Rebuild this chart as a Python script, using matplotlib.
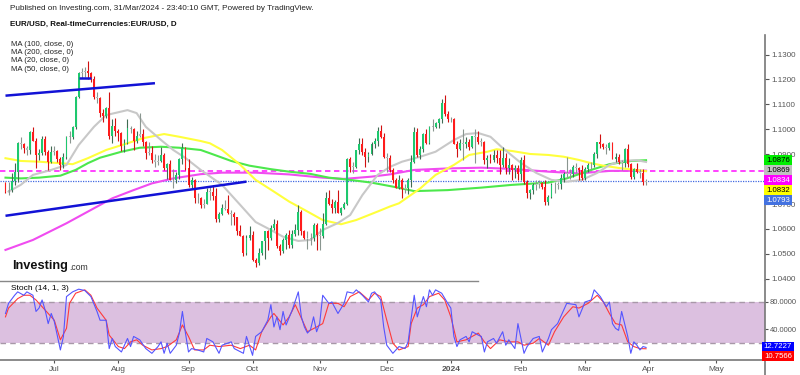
import matplotlib
matplotlib.use("Agg")
import matplotlib.pyplot as plt
import numpy as np
import pandas as pd
from matplotlib.lines import Line2D

plt.rcParams['font.family'] = ['Liberation Sans', 'DejaVu Sans']

# daily bars, 9 Jun 2023 .. 29 Mar 2024 (weekdays)
dates = pd.bdate_range('2023-06-09', '2024-03-29')

opens = [
    1.0785, 1.0750, 1.0755, 1.0793, 1.0830, 1.0945, 1.0940, 1.0923, 1.0916, 1.0990, 1.0955, 1.0895, 1.0905, 1.0960, 1.0910, 1.0868,
    1.0910, 1.0912, 1.0880, 1.0855, 1.0890, 1.0970, 1.0970, 1.1010, 1.1130, 1.1225, 1.1230, 1.1235, 1.1225, 1.1200, 1.1128, 1.1125, 1.1064, 1.1055, 1.1085, 1.0975, 1.1015,
    1.0995, 1.0985, 1.0935, 1.0945, 1.1005, 1.1000, 1.0955, 1.0975, 1.0980, 1.0950, 1.0905, 1.0905, 1.0875, 1.0870, 1.0872, 1.0895, 1.0845, 1.0860, 1.0795, 1.0795, 1.0815, 1.0880, 1.0925,
    1.0845, 1.0775, 1.0795, 1.0723, 1.0725, 1.0695, 1.0700, 1.0750, 1.0750, 1.0733, 1.0640, 1.0660, 1.0685, 1.0680, 1.0665, 1.0660, 1.0650, 1.0590, 1.0570, 1.0505, 1.0565,
    1.0575, 1.0475, 1.0465, 1.0505, 1.0550, 1.0590, 1.0565, 1.0605, 1.0620, 1.0530, 1.0510, 1.0555, 1.0575, 1.0535, 1.0580, 1.0595, 1.0670, 1.0590, 1.0565, 1.0560, 1.0565, 1.0615,
    1.0575, 1.0570, 1.0620, 1.0725, 1.0700, 1.0685, 1.0710, 1.0665, 1.0685, 1.0700, 1.0880, 1.0850, 1.0850, 1.0915, 1.0940, 1.0910, 1.0890, 1.0900, 1.0940, 1.0955, 1.0995, 1.0970,
    1.0890, 1.0885, 1.0835, 1.0795, 1.0765, 1.0795, 1.0760, 1.0765, 1.0795, 1.0870, 1.0990, 1.0895, 1.0920, 1.0980, 1.0945, 1.1010, 1.1010, 1.1025, 1.1040, 1.1105, 1.1060,
    1.1040, 1.1040, 1.0940, 1.0920, 1.0945, 1.0940, 1.0950, 1.0930, 1.0975, 1.0970, 1.0950, 1.0950, 1.0875, 1.0885, 1.0875, 1.0895, 1.0885, 1.0855, 1.0885, 1.0845, 1.0855, 1.0835, 1.0845,
    1.0820, 1.0875, 1.0790, 1.0745, 1.0755, 1.0775, 1.0780, 1.0785, 1.0770, 1.0710, 1.0730, 1.0775, 1.0775, 1.0780, 1.0805, 1.0820, 1.0825, 1.0820, 1.0850, 1.0845, 1.0835,
    1.0805, 1.0840, 1.0855, 1.0855, 1.0900, 1.0950, 1.0940, 1.0930, 1.0925, 1.0945, 1.0880, 1.0890, 1.0870, 1.0865, 1.0920, 1.0860, 1.0810, 1.0840, 1.0830, 1.0825, 1.0790,
]
highs = [
    1.0790, 1.0790, 1.0823, 1.0865, 1.0950, 1.0970, 1.0945, 1.0935, 1.0995, 1.1010, 1.0965, 1.0920, 1.0975, 1.0975, 1.0915, 1.0935,
    1.0935, 1.0915, 1.0890, 1.0905, 1.0975, 1.0995, 1.1015, 1.1135, 1.1230, 1.1245, 1.1250, 1.1276, 1.1230, 1.1215, 1.1150, 1.1130, 1.1080, 1.1090, 1.1150, 1.1040, 1.1045,
    1.1000, 1.0990, 1.0960, 1.1040, 1.1015, 1.1005, 1.0995, 1.1065, 1.1000, 1.0955, 1.0950, 1.0935, 1.0900, 1.0895, 1.0930, 1.0905, 1.0865, 1.0875, 1.0840, 1.0830, 1.0885, 1.0945, 1.0930,
    1.0880, 1.0810, 1.0800, 1.0745, 1.0730, 1.0720, 1.0765, 1.0770, 1.0775, 1.0765, 1.0670, 1.0700, 1.0715, 1.0735, 1.0675, 1.0670, 1.0650, 1.0615, 1.0575, 1.0575, 1.0610,
    1.0590, 1.0485, 1.0525, 1.0550, 1.0590, 1.0595, 1.0615, 1.0640, 1.0635, 1.0540, 1.0565, 1.0585, 1.0595, 1.0595, 1.0620, 1.0695, 1.0675, 1.0595, 1.0590, 1.0585, 1.0625, 1.0625,
    1.0605, 1.0665, 1.0750, 1.0755, 1.0720, 1.0715, 1.0755, 1.0690, 1.0710, 1.0885, 1.0890, 1.0870, 1.0915, 1.0965, 1.0965, 1.0925, 1.0910, 1.0950, 1.0965, 1.1010, 1.1018, 1.0985,
    1.0905, 1.0895, 1.0845, 1.0805, 1.0815, 1.0805, 1.0780, 1.0805, 1.0895, 1.1010, 1.1005, 1.0935, 1.0985, 1.1000, 1.1015, 1.1040, 1.1030, 1.1045, 1.1120, 1.1139, 1.1075,
    1.1050, 1.1045, 1.0955, 1.0960, 1.1000, 1.0970, 1.0960, 1.0975, 1.1000, 1.0995, 1.0965, 1.0955, 1.0895, 1.0900, 1.0915, 1.0915, 1.0915, 1.0930, 1.0905, 1.0885, 1.0860, 1.0855, 1.0855,
    1.0890, 1.0895, 1.0795, 1.0760, 1.0785, 1.0795, 1.0795, 1.0790, 1.0795, 1.0735, 1.0785, 1.0790, 1.0790, 1.0820, 1.0830, 1.0890, 1.0840, 1.0855, 1.0865, 1.0850, 1.0855,
    1.0850, 1.0865, 1.0870, 1.0910, 1.0950, 1.0981, 1.0945, 1.0940, 1.0950, 1.0950, 1.0905, 1.0900, 1.0875, 1.0925, 1.0940, 1.0865, 1.0845, 1.0865, 1.0840, 1.0840, 1.0800,
]
lows = [
    1.0745, 1.0735, 1.0750, 1.0775, 1.0790, 1.0920, 1.0905, 1.0895, 1.0900, 1.0955, 1.0845, 1.0875, 1.0895, 1.0895, 1.0835, 1.0865,
    1.0895, 1.0870, 1.0835, 1.0845, 1.0880, 1.0945, 1.0960, 1.1000, 1.1125, 1.1205, 1.1210, 1.1200, 1.1190, 1.1120, 1.1105, 1.1050, 1.1030, 1.1045, 1.0960, 1.0945, 1.0975,
    1.0955, 1.0912, 1.0910, 1.0940, 1.0985, 1.0915, 1.0945, 1.0970, 1.0935, 1.0880, 1.0895, 1.0865, 1.0850, 1.0855, 1.0870, 1.0835, 1.0800, 1.0795, 1.0765, 1.0785, 1.0800, 1.0860, 1.0835,
    1.0770, 1.0765, 1.0705, 1.0705, 1.0685, 1.0685, 1.0700, 1.0715, 1.0715, 1.0630, 1.0630, 1.0655, 1.0675, 1.0660, 1.0615, 1.0615, 1.0575, 1.0570, 1.0490, 1.0495, 1.0555,
    1.0470, 1.0448, 1.0455, 1.0495, 1.0480, 1.0515, 1.0555, 1.0595, 1.0525, 1.0495, 1.0505, 1.0520, 1.0525, 1.0525, 1.0570, 1.0575, 1.0575, 1.0560, 1.0520, 1.0535, 1.0550, 1.0515,
    1.0515, 1.0565, 1.0615, 1.0695, 1.0665, 1.0665, 1.0665, 1.0655, 1.0680, 1.0695, 1.0830, 1.0825, 1.0845, 1.0900, 1.0895, 1.0850, 1.0870, 1.0895, 1.0925, 1.0935, 1.0965, 1.0885,
    1.0830, 1.0830, 1.0785, 1.0765, 1.0760, 1.0725, 1.0745, 1.0740, 1.0770, 1.0865, 1.0890, 1.0880, 1.0910, 1.0940, 1.0940, 1.0995, 1.1005, 1.1005, 1.1025, 1.1055, 1.1030,
    1.1030, 1.0940, 1.0890, 1.0915, 1.0875, 1.0925, 1.0915, 1.0925, 1.0865, 1.0940, 1.0935, 1.0860, 1.0845, 1.0865, 1.0870, 1.0865, 1.0820, 1.0850, 1.0820, 1.0820, 1.0795, 1.0805, 1.0795,
    1.0795, 1.0780, 1.0725, 1.0720, 1.0740, 1.0755, 1.0765, 1.0760, 1.0695, 1.0695, 1.0725, 1.0745, 1.0760, 1.0760, 1.0790, 1.0805, 1.0800, 1.0810, 1.0825, 1.0795, 1.0795,
    1.0795, 1.0830, 1.0840, 1.0850, 1.0885, 1.0925, 1.0920, 1.0900, 1.0915, 1.0880, 1.0870, 1.0860, 1.0835, 1.0850, 1.0850, 1.0800, 1.0800, 1.0825, 1.0805, 1.0775, 1.0775,
]
closes = [
    1.0750, 1.0755, 1.0793, 1.0830, 1.0945, 1.0940, 1.0923, 1.0916, 1.0990, 1.0955, 1.0895, 1.0905, 1.0960, 1.0910, 1.0868, 1.0910,
    1.0912, 1.0880, 1.0855, 1.0890, 1.0970, 1.0970, 1.1010, 1.1130, 1.1225, 1.1230, 1.1235, 1.1225, 1.1200, 1.1128, 1.1125, 1.1064, 1.1055, 1.1085, 1.0975, 1.1015, 1.0995,
    1.0985, 1.0935, 1.0945, 1.1005, 1.1000, 1.0955, 1.0975, 1.0980, 1.0950, 1.0905, 1.0905, 1.0875, 1.0870, 1.0872, 1.0895, 1.0845, 1.0860, 1.0795, 1.0795, 1.0815, 1.0880, 1.0925, 1.0845,
    1.0775, 1.0795, 1.0723, 1.0725, 1.0695, 1.0700, 1.0750, 1.0750, 1.0733, 1.0640, 1.0660, 1.0685, 1.0680, 1.0665, 1.0660, 1.0650, 1.0590, 1.0570, 1.0505, 1.0565, 1.0575,
    1.0475, 1.0465, 1.0505, 1.0550, 1.0590, 1.0565, 1.0605, 1.0620, 1.0530, 1.0510, 1.0555, 1.0575, 1.0535, 1.0580, 1.0595, 1.0670, 1.0590, 1.0565, 1.0560, 1.0565, 1.0615, 1.0575,
    1.0570, 1.0620, 1.0725, 1.0700, 1.0685, 1.0710, 1.0665, 1.0685, 1.0700, 1.0880, 1.0850, 1.0850, 1.0915, 1.0940, 1.0910, 1.0890, 1.0900, 1.0940, 1.0955, 1.0995, 1.0970, 1.0890,
    1.0885, 1.0835, 1.0795, 1.0765, 1.0795, 1.0760, 1.0765, 1.0795, 1.0870, 1.0990, 1.0895, 1.0920, 1.0980, 1.0945, 1.1010, 1.1010, 1.1025, 1.1040, 1.1105, 1.1060, 1.1040,
    1.1040, 1.0940, 1.0920, 1.0945, 1.0940, 1.0950, 1.0930, 1.0975, 1.0970, 1.0950, 1.0950, 1.0875, 1.0885, 1.0875, 1.0895, 1.0885, 1.0855, 1.0885, 1.0845, 1.0855, 1.0835, 1.0845, 1.0820,
    1.0875, 1.0790, 1.0745, 1.0755, 1.0775, 1.0780, 1.0785, 1.0770, 1.0710, 1.0730, 1.0775, 1.0775, 1.0780, 1.0805, 1.0820, 1.0825, 1.0820, 1.0850, 1.0845, 1.0835, 1.0805,
    1.0840, 1.0855, 1.0855, 1.0900, 1.0950, 1.0940, 1.0930, 1.0925, 1.0945, 1.0880, 1.0890, 1.0870, 1.0865, 1.0920, 1.0860, 1.0810, 1.0840, 1.0830, 1.0825, 1.0790, 1.0793,
]

# moving averages (trading-day number, value)
ma20_day = [1, 5, 9, 15, 20, 24, 29, 33, 40, 43, 46, 51, 55, 59, 64, 71, 77, 82, 87, 91, 96, 100, 104, 109, 113, 117, 122,
            126, 130, 136, 141, 147, 151, 155, 159, 163, 169, 174, 179, 184, 189, 194, 198, 202, 207, 210]
ma20_val = [1.0750, 1.0777, 1.0817, 1.0837, 1.0857, 1.0937, 1.1010, 1.1057, 1.1077, 1.1065, 1.1010, 1.0957, 1.0917, 1.0885,
            1.0837, 1.0777, 1.0696, 1.0628, 1.0596, 1.0569, 1.0552, 1.0556, 1.0596, 1.0624, 1.0656, 1.0736, 1.0817, 1.0849,
            1.0870, 1.0890, 1.0910, 1.0957, 1.0981, 1.0985, 1.0970, 1.0925, 1.0865, 1.0825, 1.0797, 1.0790, 1.0797, 1.0825,
            1.0857, 1.0873, 1.0876, 1.0869]
ma50_day = [0, 5, 11, 18, 22, 27, 33, 40, 45, 52, 57, 64, 67, 71, 77, 82, 88, 93, 99, 104, 110, 115, 122, 126, 129, 136,
            141, 147, 152, 158, 161, 166, 172, 178, 183, 188, 192, 196, 201, 210]
ma50_val = [1.0884, 1.0873, 1.0870, 1.0864, 1.0860, 1.0884, 1.0917, 1.0944, 1.0964, 1.0981, 1.0970, 1.0953, 1.0944, 1.0917,
            1.0857, 1.0797, 1.0750, 1.0710, 1.0670, 1.0636, 1.0619, 1.0636, 1.0670, 1.0690, 1.0703, 1.0763, 1.0817, 1.0857,
            1.0897, 1.0910, 1.0920, 1.0913, 1.0901, 1.0897, 1.0890, 1.0877, 1.0864, 1.0854, 1.0845, 1.0832]
ma100_day = [0, 5, 11, 18, 23, 27, 31, 38, 44, 51, 57, 64, 67, 74, 80, 87, 93, 100, 106, 113, 120, 127, 134, 145, 156, 166,
             178, 184, 192, 198, 205, 210]
ma100_val = [1.0806, 1.0803, 1.0806, 1.0814, 1.0837, 1.0864, 1.0886, 1.0910, 1.0926, 1.0930, 1.0926, 1.0917, 1.0904, 1.0873,
             1.0854, 1.0840, 1.0830, 1.0821, 1.0806, 1.0797, 1.0786, 1.0770, 1.0752, 1.0756, 1.0766, 1.0777, 1.0786, 1.0803,
             1.0837, 1.0860, 1.0873, 1.0876]
ma200_day = [0, 9, 20, 29, 35, 42, 48, 55, 64, 71, 82, 93, 104, 111, 120, 126, 134, 145, 156, 166, 178, 188, 198, 210]
ma200_val = [1.0516, 1.0556, 1.0623, 1.0683, 1.0723, 1.0756, 1.0783, 1.0803, 1.0820, 1.0826, 1.0826, 1.0819, 1.0806, 1.0801,
             1.0810, 1.0819, 1.0837, 1.0843, 1.0846, 1.0841, 1.0830, 1.0823, 1.0833, 1.0834]

# drawn trend lines (trading-day number, price)
trend_upper = ([0, 49], [1.1135, 1.1185])
trend_lower = ([0, 79], [1.0653, 1.0790])
trend_top = ([24, 28], [1.1207, 1.1207])

k_day = [0, 1, 3, 4, 6, 7, 9, 10, 11, 12, 13, 14, 15, 16, 18, 19, 20, 22, 24, 26, 28, 30, 31, 33, 34, 35, 36, 38, 39, 40,
         41, 42, 44, 46, 48, 50, 51, 52, 53, 54, 56, 57, 58, 59, 60, 61, 63, 65, 66, 68, 70, 71, 74, 75, 78, 79, 81, 82, 84,
         86, 87, 88, 89, 90, 91, 92, 94, 96, 97, 98, 99, 100, 101, 102, 103, 104, 106, 107, 109, 111, 112, 114, 115, 117,
         119, 120, 121, 123, 124, 125, 127, 129, 131, 132, 134, 135, 137, 138, 139, 140, 141, 143, 145, 146, 147, 148, 149,
         151, 152, 153, 155, 156, 157, 158, 160, 161, 163, 164, 165, 167, 168, 170, 171, 173, 175, 176, 178, 179, 181, 183,
         184, 187, 188, 190, 192, 193, 195, 197, 198, 199, 200, 201, 202, 204, 205, 206, 207, 208, 209, 210]
k_val = [63, 78, 90, 95, 90, 95, 90, 66, 71, 83, 68, 48, 63, 51, 9, 29, 88, 95, 99, 97, 88, 66, 53, 53, 11, 26, 14, 6, 16, 26,
         14, 29, 24, 11, 4, 14, 21, 4, 19, 4, 16, 34, 66, 34, 6, 11, 9, 6, 26, 21, 4, 16, 21, 11, 4, 29, 1, 29, 36,
         53, 76, 43, 58, 39, 66, 46, 68, 95, 58, 43, 34, 39, 58, 36, 48, 90, 78, 80, 63, 78, 95, 93, 98, 90,
         80, 93, 95, 83, 43, 16, 4, 14, 11, 21, 90, 58, 88, 73, 98, 90, 98, 93, 78, 71, 29, 14, 24,
         29, 21, 36, 31, 29, 6, 21, 26, 19, 36, 16, 24, 11, 48, 4, 14, 26, 29, 6, 26, 39, 48, 68,
         78, 76, 58, 80, 83, 98, 88, 73, 80, 48, 41, 38, 66, 29, 4, 21, 16, 9, 14, 12.7227]
d_day = [0, 1, 4, 6, 8, 10, 12, 14, 16, 18, 20, 21, 23, 26, 28, 30, 33, 34, 37, 39, 41, 43, 45, 48, 51, 53, 56, 58, 60, 62,
         65, 67, 70, 74, 77, 80, 82, 84, 87, 88, 91, 93, 95, 97, 99, 102, 104, 106, 109, 111, 113, 116, 119, 121, 123, 125,
         127, 129, 132, 133, 135, 137, 139, 142, 144, 146, 148, 151, 155, 157, 159, 162, 165, 168, 170, 173, 175, 178, 180,
         183, 186, 188, 191, 194, 196, 198, 200, 202, 204, 206, 208, 210]
d_val = [58, 71, 85, 90, 90, 83, 73, 63, 53, 24, 41, 78, 93, 98, 90, 71, 53, 31, 14, 11, 21, 24, 16, 9, 11, 14, 24, 46, 29, 9,
         9, 16, 14, 16, 11, 16, 9, 36, 58, 63, 46, 58, 76, 56, 36, 43, 48, 78, 78, 73, 88, 95, 83, 93, 88, 53,
         19, 9, 14, 48, 71, 76, 88, 93, 83, 58, 21, 24, 34, 21, 11, 24, 21, 21, 16, 19, 26, 16, 36,
         58, 73, 71, 78, 90, 80, 63, 48, 46, 21, 14, 11, 10.7566]

for seq in (opens, highs, lows, closes):
    assert len(seq) == len(dates), len(seq)
assert len(k_day) == len(k_val) and len(d_day) == len(d_val)

W, H = 800, 375


def fx(px):
    return px / W


def fy(py):
    return 1 - py / H


fig = plt.figure(figsize=(8, 3.75), dpi=100)
ax = fig.add_axes([0, fy(280), fx(765), fy(35) - fy(280)])
ax2 = fig.add_axes([0, fy(360), fx(765), fy(281) - fy(360)], sharex=ax)

n = len(dates)
x = np.arange(n)
o, h, l, c = map(np.array, (opens, highs, lows, closes))

up, down, flat = '#1ec86e', '#ff1c1c', '#b4bcb8'
small = np.abs(c - o) < 0.0008
body_col = np.where(small, flat, np.where(c > o, up, down))
wick_col = np.where(small, '#8a9690', np.where(c > o, '#3f6b52', '#d01010'))

# moving averages (under the candles)
ax.plot(ma200_day, ma200_val, color='#f04cf0', lw=1.5, zorder=2)
ax.plot(ma100_day, ma100_val, color='#4ce84c', lw=1.5, zorder=2)
ax.plot(ma50_day, ma50_val, color='#ffff3c', lw=1.5, zorder=2)
ax.plot(ma20_day, ma20_val, color='#c8c8c8', lw=1.5, zorder=2)

ax.vlines(x, l, h, colors=wick_col, lw=0.8, zorder=3)
ax.bar(x, np.maximum(np.abs(c - o), 0.0003), bottom=np.minimum(o, c), width=0.62,
       color=body_col, lw=0, zorder=4)

for tx, ty in (trend_upper, trend_lower, trend_top):
    ax.plot(tx, ty, color='#1212d6', lw=1.8, zorder=5, solid_capstyle='butt')

ax.axhline(ma200_val[-1], color='#ff33ff', ls=(0, (3, 2)), lw=1.3, zorder=1)
ax.axhline(closes[-1], color='#4169e1', ls=(0, (1, 1)), lw=0.9, zorder=1)

ax.set_xlim(-1.8, 249)
ax.set_ylim(1.03953, 1.13784)
ax.yaxis.tick_right()
ax.set_yticks([1.04, 1.05, 1.06, 1.07, 1.09, 1.10, 1.11, 1.12, 1.13])
ax.yaxis.set_major_formatter(plt.FuncFormatter(lambda v, _: f"{v:.4f}"))
ax.tick_params(axis='y', labelsize=5.8, colors='#555555', length=3, pad=1.5, width=0.8)
ax.tick_params(axis='x', bottom=False, labelbottom=False)
for s in ('top', 'left', 'bottom'):
    ax.spines[s].set_visible(False)
ax.spines['right'].set_color('#777777')
ax.spines['right'].set_linewidth(1.2)
ax.patch.set_alpha(0)

# stochastic pane
ax2.axhspan(20, 80, color='#dcc0e0', lw=0, zorder=0)
for lvl in (20, 80):
    ax2.axhline(lvl, color='#a898a8', ls=(0, (4, 3)), lw=1, zorder=1)
ax2.plot(k_day, k_val, color='#5555ff', lw=0.8, zorder=3)
ax2.plot(d_day, d_val, color='#ff3a3a', lw=0.8, zorder=2)
ax2.set_ylim(-5.9, 111.1)
ax2.yaxis.tick_right()
ax2.set_yticks([40, 80])
ax2.set_yticklabels(['40.0000', '80.0000'])
ax2.tick_params(axis='y', labelsize=5.5, colors='#555555', length=2.5, pad=1, width=0.8)
for s in ('top', 'left'):
    ax2.spines[s].set_visible(False)
for s in ('right', 'bottom'):
    ax2.spines[s].set_color('#777777')
    ax2.spines[s].set_linewidth(1.2)
ax2.text(0.014, 0.9, 'Stoch (14, 1, 3)', transform=ax2.transAxes, fontsize=6, va='center')

all_days = pd.bdate_range(dates[0], '2024-05-31')
month_first = [i for i in range(1, len(all_days)) if all_days[i].month != all_days[i - 1].month]
month_lab = ['2024' if all_days[i].month == 1 else all_days[i].strftime('%b') for i in month_first]
ax2.set_xticks(month_first)
ax2.set_xticklabels(month_lab)
ax2.tick_params(axis='x', labelsize=6, colors='#555555', length=2, pad=2)
for t in ax2.get_xticklabels():
    if t.get_text() == '2024':
        t.set_fontweight('bold')

# pane separator and axis line to the bottom
fig.add_artist(Line2D([0, fx(478)], [fy(281), fy(281)], color='#888888', lw=1))
fig.add_artist(Line2D([fx(765), fx(765)], [fy(360), 0], color='#777777', lw=1.2))


def tag(ypx, text, bg, fg):
    fig.text(fx(778), fy(ypx), text, ha='center', va='center', fontsize=5.6, color=fg,
             bbox=dict(boxstyle='square,pad=0.22', fc=bg, ec='none'))


tag(160.5, f"{ma100_val[-1]:.4f}", '#00ee00', 'black')
tag(170.5, f"{ma20_val[-1]:.4f}", '#c0c0c0', 'black')
tag(180.5, f"{ma200_val[-1]:.4f}", '#ff00ff', 'white')
tag(190.2, f"{ma50_val[-1]:.4f}", '#ffff00', 'black')
tag(200.2, f"{closes[-1]:.4f}", '#4472e0', 'white')
tag(347, f"{k_val[-1]:.4f}", '#0000ff', 'white')
tag(356, f"{d_val[-1]:.4f}", '#ff0000', 'white')

# header and legend
fig.text(fx(10), fy(8), 'Published on Investing.com, 31/Mar/2024 - 23:40:10 GMT, Powered by TradingView.',
         fontsize=5.9, va='center', color='#222222')
fig.text(fx(10), fy(24), 'EUR/USD, Real-timeCurrencies:EUR/USD, D', fontsize=5.8, va='center',
         color='#111111', fontweight='bold')
for ypx, lab in zip((44, 52.5, 61, 69.5),
                    ('MA (100, close, 0)', 'MA (200, close, 0)', 'MA (20, close, 0)', 'MA (50, close, 0)')):
    fig.text(fx(11), fy(ypx), lab, fontsize=5.6, va='center', color='#222222')

fig.text(fx(12), fy(266), 'Investing', fontsize=9.2, fontweight='bold', va='center', color='#111111')
fig.text(fx(69), fy(267), '.com', fontsize=6.2, va='center', color='#333333')

fig.savefig('out.png', dpi=100)
plt.close(fig)
